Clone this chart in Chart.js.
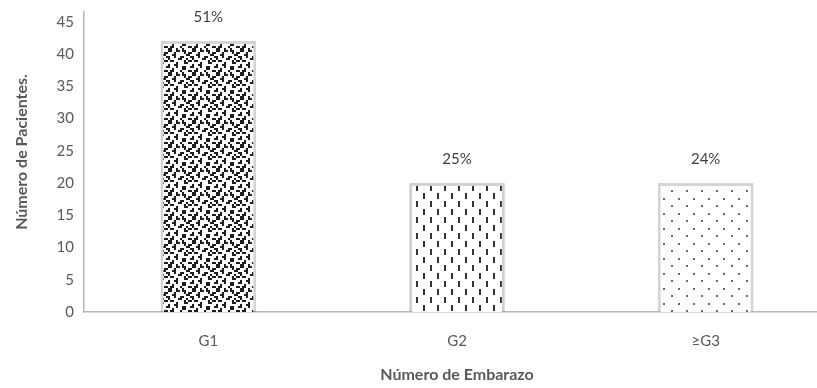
<!DOCTYPE html>
<html>
<head>
<meta charset="utf-8">
<script src="https://cdn.jsdelivr.net/npm/chart.js@4.4.1/dist/chart.umd.min.js"></script>
<style>
  html, body { margin: 0; padding: 0; background: #ffffff; overflow: hidden; }
  #wrap { position: relative; width: 830px; height: 388px; }
</style>
</head>
<body>
<div id="wrap"><canvas id="chart"></canvas></div>
<script>
// Pregnancy number vs. number of patients
const categories = ['G1', 'G2', '\u2265G3'];
const patientCounts = [42, 20, 20];
const shareLabels = ['51%', '25%', '24%'];
const yTickValues = [0, 5, 10, 15, 20, 25, 30, 35, 40, 45];
const xTitle = 'Número de Embarazo';
const yTitle = 'Número de Pacientes.';

const FONT = 'Lato, "Open Sans", "Liberation Sans", sans-serif';
const TEXT = '#595959';

// Build a repeating fill from a small bitmap ('#' = ink), each cell drawn as px x px
function bitmapPattern(rows, ink, px) {
  const h = rows.length, w = rows[0].length;
  const tile = document.createElement('canvas');
  tile.width = w * px; tile.height = h * px;
  const t = tile.getContext('2d');
  t.fillStyle = '#ffffff';
  t.fillRect(0, 0, tile.width, tile.height);
  t.fillStyle = ink;
  rows.forEach((row, y) => {
    for (let x = 0; x < w; x++) if (row[x] === '#') t.fillRect(x * px, y * px, px, px);
  });
  return t.createPattern(tile, 'repeat');
}

const ctx = document.getElementById('chart').getContext('2d');

const confetti = bitmapPattern([
  '##..#..#....',
  '##..##.##...',
  '...#....#.##',
  '..##.....##.',
  '#..#..##...#',
  '#....##..#..',
  '.##.....#.##',
  '....#...##..',
  '#..##.......',
  '#...#..##..#',
  '..#....##...',
  '.##...#...##'
], '#1e1e1e', 2);

const dashes = bitmapPattern([
  '..............',
  '...##.........',
  '...##.........',
  '...##.........',
  '...##.........',
  '...##.........',
  '...##.........',
  '..............',
  '..............',
  '..........##..',
  '..........##..',
  '..........##..',
  '..........##..',
  '..........##..',
  '..........##..',
  '..............'
], '#333333', 1);

const dots = bitmapPattern([
  '...............',
  '...............',
  '...............',
  '...##..........',
  '...##..........',
  '...............',
  '...............',
  '...............',
  '...............',
  '...............',
  '...........##..',
  '...........##..',
  '...............',
  '...............',
  '...............'
], '#6a6a6a', 1);

// Percent share above each bar
const valueLabels = {
  id: 'valueLabels',
  afterDatasetsDraw(chart) {
    const c = chart.ctx;
    const meta = chart.getDatasetMeta(0);
    c.save();
    c.font = '15px ' + FONT;
    c.fillStyle = '#404040';
    c.textAlign = 'center';
    c.textBaseline = 'middle';
    meta.data.forEach((bar, i) => c.fillText(shareLabels[i], bar.x, bar.y - 24));
    c.restore();
  }
};

// Rotated y-axis title, set a little above the axis midpoint
const yAxisTitle = {
  id: 'yAxisTitle',
  afterDraw(chart) {
    const c = chart.ctx;
    const area = chart.chartArea;
    c.save();
    c.translate(22, (area.top + area.bottom) / 2 - 10);
    c.rotate(-Math.PI / 2);
    c.font = 'bold 16px ' + FONT;
    c.fillStyle = TEXT;
    c.textAlign = 'center';
    c.textBaseline = 'middle';
    c.fillText(yTitle, 0, 0);
    c.restore();
  }
};

new Chart(ctx, {
  type: 'bar',
  data: {
    labels: categories,
    datasets: [{
      data: patientCounts,
      backgroundColor: [confetti, dashes, dots],
      borderColor: ['rgba(40,40,40,0.2)', 'rgba(140,140,140,0.4)', 'rgba(160,160,160,0.45)'],
      borderWidth: 3,
      borderSkipped: 'bottom',
      categoryPercentage: 1,
      barPercentage: 0.385
    }]
  },
  options: {
    responsive: true,
    maintainAspectRatio: false,
    animation: false,
    layout: { padding: { top: 12, left: 0, right: 0, bottom: 0 } },
    plugins: {
      legend: { display: false },
      tooltip: { enabled: false }
    },
    scales: {
      x: {
        offset: true,
        grid: { display: false, drawTicks: false },
        border: { display: true, color: '#b8b8b8', width: 1.5 },
        ticks: { color: TEXT, font: { family: FONT, size: 15 }, padding: 20 },
        title: {
          display: true,
          text: xTitle,
          color: TEXT,
          font: { family: FONT, size: 16, weight: 'bold' },
          padding: { top: 0, bottom: 4 }
        },
        afterFit(scale) {
          scale.height = 76;
          scale.paddingLeft = 0; scale.paddingRight = 0;
        }
      },
      y: {
        min: 0,
        max: 46.5,
        grid: { display: false, drawTicks: false },
        border: { display: true, color: '#b8b8b8', width: 1.5 },
        ticks: { color: TEXT, font: { family: FONT, size: 15 }, padding: 10 },
        afterBuildTicks(scale) { scale.ticks = yTickValues.map(v => ({ value: v })); },
        title: { display: false },
        afterFit(scale) {
          scale.width = 84;
          scale.paddingTop = 0; scale.paddingBottom = 0;
        }
      }
    }
  },
  plugins: [valueLabels, yAxisTitle]
});
</script>
</body>
</html>
